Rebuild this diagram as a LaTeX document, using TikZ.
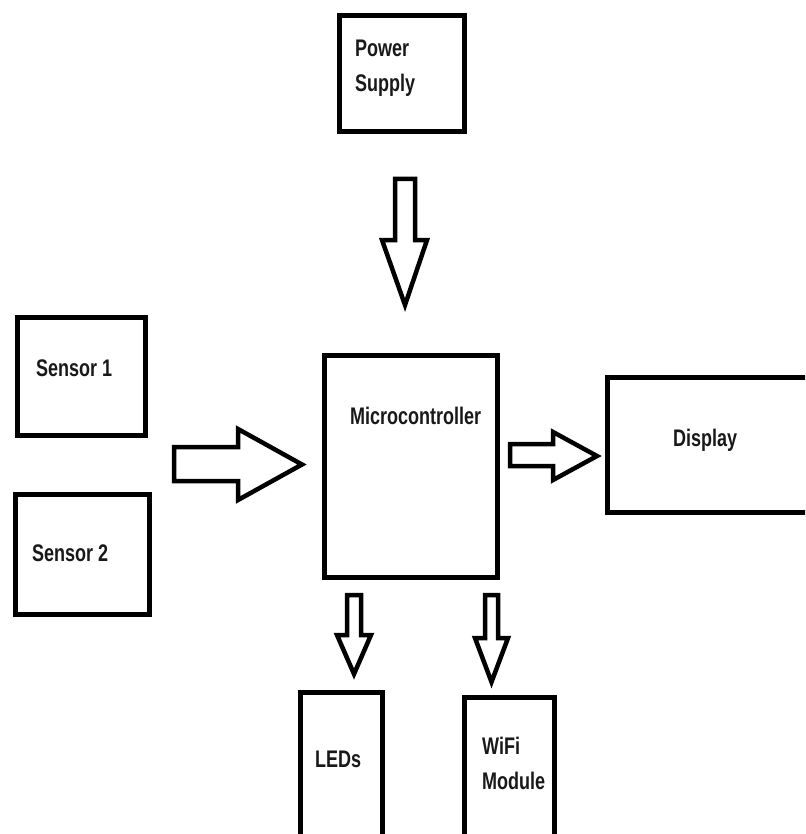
\documentclass[tikz,border=0pt]{standalone}
\usepackage{fontspec}
\newfontfamily\lblfont{Liberation Sans}[FakeStretch=0.75]
\begin{document}
\begin{tikzpicture}[x=1pt,y=-1pt,
  box/.style={draw=black, line width=5pt, inner sep=0pt},
  lbl/.style={font=\lblfont\bfseries\fontsize{24}{35}\selectfont, inner sep=0pt, anchor=north west, align=left, text=black!90},
  blk/.style={draw=black, line width=4.5pt, line join=miter, miter limit=10, fill=white}]
\clip (0,0) rectangle (805,834);
\fill[white] (0,0) rectangle (805,834);
% boxes
\node[box, minimum width=125pt, minimum height=116pt] (power) at (402,73.5) {};
\node[box, minimum width=128pt, minimum height=118pt] (s1) at (81.5,376.5) {};
\node[box, minimum width=134pt, minimum height=120pt] (s2) at (82.5,554.5) {};
\node[box, minimum width=173pt, minimum height=222pt] (mcu) at (411,466.5) {};
\node[box, minimum width=205pt, minimum height=135pt] (disp) at (710,445) {};
\node[box, minimum width=82pt, minimum height=153pt] (leds) at (341.5,769) {};
\node[box, minimum width=90pt, minimum height=148pt] (wifi) at (509.5,771.5) {};
% labels
\node[lbl] (powerT) at (355,40) {Power\\Supply};
\node[lbl] (s1T) at (36,360) {Sensor 1};
\node[lbl] (s2T) at (32,545) {Sensor 2};
\node[lbl] (mcuT) at (350,407) {Microcontroller};
\node[lbl] (dispT) at (673,429) {Display};
\node[lbl] (ledsT) at (315,751) {LEDs};
\node[lbl] (wifiT) at (482,737) {WiFi\\Module};
% block arrows
\draw[blk] (395,179) -- (415,179) -- (415,240) -- (427,240) -- (405,305) -- (382,240) -- (395,240) -- cycle;
\draw[blk] (174,447) -- (238,447) -- (238,429) -- (302,464.5) -- (238,500) -- (238,481) -- (174,481) -- cycle;
\draw[blk] (510,444) -- (553,444) -- (553,432) -- (597,456) -- (553,480) -- (553,466) -- (510,466) -- cycle;
\draw[blk] (347,595) -- (361,595) -- (361,635) -- (371,635) -- (354,674) -- (337,635) -- (347,635) -- cycle;
\draw[blk] (485,595) -- (498,595) -- (498,638) -- (508,638) -- (491.5,682) -- (475,638) -- (485,638) -- cycle;
\end{tikzpicture}
\end{document}
